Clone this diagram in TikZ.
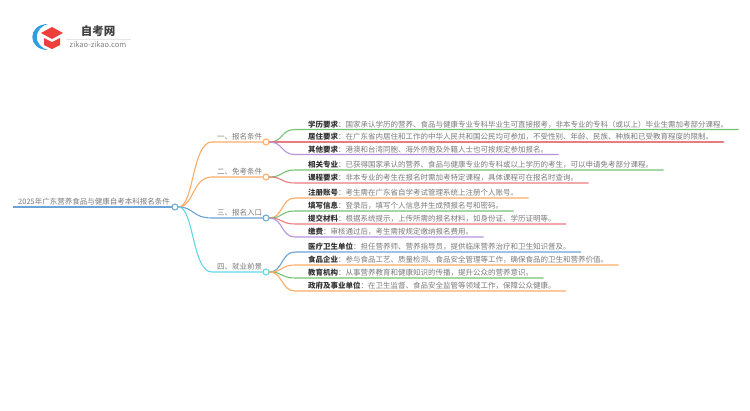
\documentclass[tikz,border=0pt]{standalone}
\usepackage{fontspec}
\setmainfont{Noto Sans CJK SC}
\definecolor{rootblue}{HTML}{6AA3D5}
\definecolor{logoblue}{HTML}{2E9FE0}
\definecolor{logored}{HTML}{EE3F3A}
\definecolor{branchorange}{HTML}{FFAB66}
\definecolor{branchgreen}{HTML}{74C274}
\definecolor{branchred}{HTML}{E97C80}
\definecolor{branchpurple}{HTML}{B793DC}
\definecolor{branchcyan}{HTML}{62D6E6}
\definecolor{labelgray}{HTML}{7A7A7A}
\tikzset{
  hub/.style={circle,draw,fill=white,line width=1pt,inner sep=0pt,minimum size=6pt},
  title/.style={anchor=south west,inner xsep=0pt,inner ysep=0pt,text height=6.5pt,text depth=2.2pt,
    text=labelgray,font=\fontsize{7.5}{9}\selectfont},
  leaf/.style={title,text=labelgray},
  link/.style={line width=1.1pt,line cap=round},
}
\newcommand{\key}[1]{\textcolor{black!80}{\bfseries #1}：}
\begin{document}
\begin{tikzpicture}[x=1pt,y=-1pt]
  \useasboundingbox (0,0) rectangle (750,410);

  % logo
  \fill [logoblue] (48,24) .. controls (27,24) and (27,50) .. (48,50) .. controls (33,46) and (33,28) .. (48,24) -- cycle;
  \fill [logored] (52,27) -- (63,33) -- (52,39) -- (41,33) -- cycle;
  \fill [logored] (44,38) -- (52,42) -- (60,38) -- (60,45) -- (52,49) -- (44,45) -- cycle;
  \node (logotext) at (98,31) [font=\fontsize{11.5}{12}\selectfont\bfseries,text=black!75,inner sep=0pt] {自考网};
  \node (logourl) at (98,45) [font=\fontsize{7.5}{9}\selectfont,text=black!50,inner sep=0pt] {zikao-zikao.com};
  \draw [black!10,line width=.5pt] (66,39) -- (131,39);

  % hubs
  \node (root) at (175,207) [hub,draw=rootblue] {};
  \node (one) at (266,142) [hub,draw=branchorange] {};
  \node (two) at (266,177) [hub,draw=branchorange] {};
  \node (three) at (266,218) [hub,draw=rootblue] {};
  \node (four) at (266,272) [hub,draw=branchcyan] {};

  % titles
  \node (roottitle) at (18,207) [title] {2025年广东营养食品与健康自考本科报名条件};
  \node (onetitle) at (217,142) [title] {一、报名条件};
  \node (twotitle) at (217,177) [title] {二、免考条件};
  \node (threetitle) at (217,218) [title] {三、报名入口};
  \node (fourtitle) at (217,272) [title] {四、就业前景};

  % leaves
  \node (a1) at (308,129.5) [leaf] {\key{学历要求}国家承认学历的营养、食品与健康专业专科毕业生可直接报考，非本专业的专科（或以上）毕业生需加考部分课程。};
  \node (a2) at (308,142) [leaf] {\key{居住要求}在广东省内居住和工作的中华人民共和国公民均可参加，不受性别、年龄、民族、种族和已受教育程度的限制。};
  \node (a3) at (308,154.5) [leaf] {\key{其他要求}港澳和台湾同胞、海外侨胞及外籍人士也可按规定参加报名。};
  \node (b1) at (308,170) [leaf] {\key{相关专业}已获得国家承认的营养、食品与健康专业的专科或以上学历的考生，可以申请免考部分课程。};
  \node (b2) at (308,183) [leaf] {\key{课程要求}非本专业的考生在报名时需加考特定课程，具体课程可在报名时查询。};
  \node (c1) at (308,198) [leaf] {\key{注册账号}考生需在广东省自学考试管理系统上注册个人账号。};
  \node (c2) at (308,211) [leaf] {\key{填写信息}登录后，填写个人信息并生成预报名号和密码。};
  \node (c3) at (308,224) [leaf] {\key{提交材料}根据系统提示，上传所需的报名材料，如身份证、学历证明等。};
  \node (c4) at (308,237) [leaf] {\key{缴费}审核通过后，考生需按规定缴纳报名费用。};
  \node (d1) at (308,252) [leaf] {\key{医疗卫生单位}担任营养师、营养指导员，提供临床营养治疗和卫生知识普及。};
  \node (d2) at (308,265) [leaf] {\key{食品企业}参与食品工艺、质量检测、食品安全管理等工作，确保食品的卫生和营养价值。};
  \node (d3) at (308,278) [leaf] {\key{教育机构}从事营养教育和健康知识的传播，提升公众的营养意识。};
  \node (d4) at (308,291) [leaf] {\key{政府及事业单位}在卫生监督、食品安全监管等领域工作，保障公众健康。};

  % first level
  \draw [rootblue,line width=1.5pt] (roottitle.south west) ++(-5,0) -- (root.west);
  \draw [link,branchorange] (root.east) .. controls (194,207) and (192,142) .. (212,142) -- (one.west);
  \draw [link,branchorange] (root.east) .. controls (194,207) and (192,177) .. (212,177) -- (two.west);
  \draw [link,rootblue] (root.east) .. controls (194,207) and (192,218) .. (212,218) -- (three.west);
  \draw [link,branchcyan] (root.east) .. controls (194,207) and (192,272) .. (212,272) -- (four.west);

  % second level
  \draw [link,branchgreen] (one.east) .. controls (283,142) and (281,129.5) .. (295,129.5) -- ([xshift=10pt]a1.south east);
  \draw [link,branchred] (one.east) -- ([xshift=10pt]a2.south east);
  \draw [link,branchpurple] (one.east) .. controls (283,142) and (281,154.5) .. (295,154.5) -- ([xshift=10pt]a3.south east);
  \draw [link,branchgreen] (two.east) .. controls (283,177) and (281,170) .. (295,170) -- ([xshift=10pt]b1.south east);
  \draw [link,branchred] (two.east) .. controls (283,177) and (281,183) .. (295,183) -- ([xshift=10pt]b2.south east);
  \draw [link,branchorange] (three.east) .. controls (283,218) and (281,198) .. (295,198) -- ([xshift=10pt]c1.south east);
  \draw [link,branchgreen] (three.east) .. controls (283,218) and (281,211) .. (295,211) -- ([xshift=10pt]c2.south east);
  \draw [link,branchred] (three.east) .. controls (283,218) and (281,224) .. (295,224) -- ([xshift=10pt]c3.south east);
  \draw [link,branchpurple] (three.east) .. controls (283,218) and (281,237) .. (295,237) -- ([xshift=10pt]c4.south east);
  \draw [link,rootblue] (four.east) .. controls (283,272) and (281,252) .. (295,252) -- ([xshift=10pt]d1.south east);
  \draw [link,branchorange] (four.east) .. controls (283,272) and (281,265) .. (295,265) -- ([xshift=10pt]d2.south east);
  \draw [link,branchgreen] (four.east) .. controls (283,272) and (281,278) .. (295,278) -- ([xshift=10pt]d3.south east);
  \draw [link,branchorange] (four.east) .. controls (283,272) and (281,291) .. (295,291) -- ([xshift=10pt]d4.south east);
\end{tikzpicture}
\end{document}
